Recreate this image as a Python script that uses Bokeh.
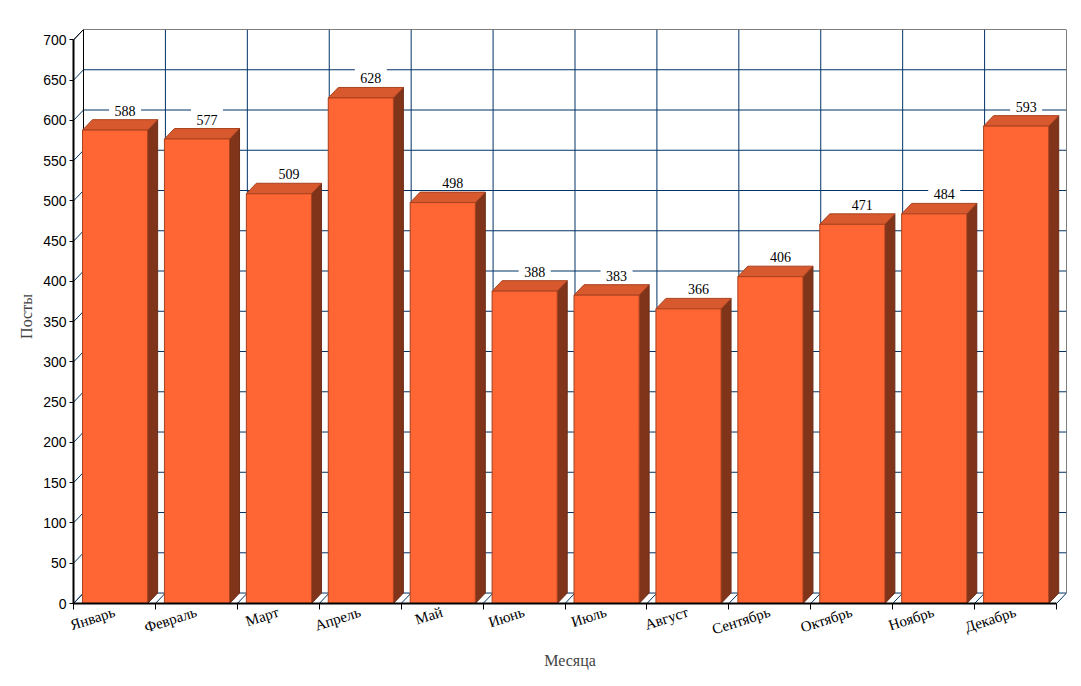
import numpy as np
from bokeh.plotting import figure
from bokeh.models import Range1d, FixedTicker, ColumnDataSource, LabelSet
from bokeh.embed import file_html
from bokeh.resources import INLINE

months = ["Январь", "Февраль", "Март", "Апрель", "Май", "Июнь",
          "Июль", "Август", "Сентябрь", "Октябрь", "Ноябрь", "Декабрь"]
posts = [588, 577, 509, 628, 498, 388, 383, 366, 406, 471, 484, 593]
y_ticks = list(range(0, 701, 50))

# 3D depth offsets (data units) and bar extent inside a category
DX = 0.122
DY = 13.0
A, B = 0.11, 0.905
YMAX = 700
N = len(months)
LBL_OFF = 14.0  # label box centre above bar back-top (data units)

FRONT = "#FF6633"
TOP = "#D9592E"
SIDE = "#80341A"
EDGE = "#A8421F"
GRID = "#003366"

p = figure(width=1070, height=680,
           x_range=Range1d(0, N + DX), y_range=Range1d(0, YMAX + DY),
           output_backend="svg", toolbar_location=None,
           min_border_left=73, min_border_right=4,
           min_border_top=29, min_border_bottom=77)
p.outline_line_color = None
p.xgrid.visible = False
p.ygrid.visible = False
p.background_fill_color = "white"
p.border_fill_color = "white"

idx = np.arange(N)
yt = np.array(y_ticks, dtype=float)

# back wall horizontal grid
inner = yt[:-1]
p.segment(x0=DX, y0=inner + DY, x1=N + DX, y1=inner + DY, line_color=GRID, line_width=1)
# back wall vertical grid
bx = np.arange(1, N)
p.segment(x0=bx + DX, y0=DY, x1=bx + DX, y1=YMAX + DY, line_color=GRID, line_width=1)
# left wall diagonals
p.segment(x0=0, y0=yt, x1=DX, y1=yt + DY, line_color=GRID, line_width=1)
# floor diagonals
fx = np.arange(0, N + 1)
p.segment(x0=fx, y0=0, x1=fx + DX, y1=DY, line_color=GRID, line_width=1)
# back wall frame
p.segment(x0=[DX, N + DX, DX], y0=[DY, DY, YMAX + DY],
          x1=[DX, N + DX, N + DX], y1=[YMAX + DY, YMAX + DY, YMAX + DY],
          line_color="black", line_width=1)
p.segment(x0=[0], y0=[YMAX], x1=[DX], y1=[YMAX + DY], line_color="black", line_width=1)

# bars
vals = np.array(posts, dtype=float)
side_xs = [[i + B, i + B + DX, i + B + DX, i + B] for i in idx]
side_ys = [[0, DY, v + DY, v] for v in vals]
top_xs = [[i + A, i + B, i + B + DX, i + A + DX] for i in idx]
top_ys = [[v, v, v + DY, v + DY] for v in vals]
p.patches(side_xs, side_ys, fill_color=SIDE, line_color="#6E2C16", line_width=1)
p.patches(top_xs, top_ys, fill_color=TOP, line_color=EDGE, line_width=1)
p.quad(left=idx + A, right=idx + B, bottom=0, top=vals,
       fill_color=FRONT, line_color=EDGE, line_width=1)

# value labels with white boxes
lx = idx + (A + B) / 2 + DX
p.rect(x=lx, y=vals + DY + LBL_OFF, width=32, height=17,
       width_units="screen", height_units="screen",
       fill_color="white", line_color=None)
src = ColumnDataSource(dict(x=lx, y=vals + DY, t=[str(v) for v in posts]))
labels = LabelSet(x="x", y="y", text="t", source=src, text_align="center",
                  text_baseline="bottom", y_offset=4,
                  text_font="Liberation Sans", text_font_size="14px",
                  text_color="black")
p.add_layout(labels)

# x axis
xa = p.xaxis[0]
centers = [float(i) + 0.5 for i in range(N)]
xa.ticker = FixedTicker(ticks=centers, minor_ticks=[float(i) for i in range(N + 1)])
xa.major_label_overrides = {c: m for c, m in zip(centers, months)}
xa.bounds = (0, N)
xa.axis_line_width = 2
xa.axis_line_color = "black"
xa.major_tick_line_color = None
xa.major_tick_out = 0
xa.major_tick_in = 0
xa.minor_tick_out = 6
xa.minor_tick_in = 0
xa.minor_tick_line_color = "black"
xa.major_label_orientation = 0.31
xa.major_label_standoff = 2
xa.major_label_text_font = "Liberation Serif"
xa.major_label_text_font_size = "15px"
xa.major_label_text_color = "black"
xa.axis_label = "Месяца"
xa.axis_label_text_font = "Liberation Serif"
xa.axis_label_text_font_size = "16px"
xa.axis_label_text_font_style = "normal"
xa.axis_label_standoff = 4

# y axis
ya = p.yaxis[0]
ya.ticker = FixedTicker(ticks=y_ticks)
ya.bounds = (0, YMAX)
ya.axis_line_width = 2
ya.axis_line_color = "black"
ya.major_tick_out = 4
ya.major_tick_in = 0
ya.minor_tick_line_color = None
ya.major_label_standoff = 3
ya.major_label_text_font = "Liberation Sans"
ya.major_label_text_font_size = "14px"
ya.major_label_text_color = "black"
ya.axis_label = "Посты"
ya.axis_label_text_font = "Liberation Serif"
ya.axis_label_text_font_size = "16px"
ya.axis_label_text_font_style = "normal"
ya.axis_label_standoff = 5

open("out.html", "w").write(file_html(p, INLINE))
